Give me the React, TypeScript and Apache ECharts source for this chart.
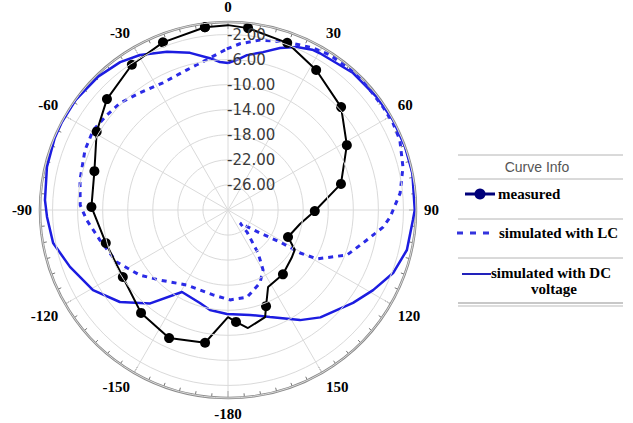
import React, { useEffect, useRef } from "react";
import * as echarts from "echarts";

// Angle tick labels (degrees) and radial ring labels (dB)
const angleTicks = [-180, -150, -120, -90, -60, -30, 0, 30, 60, 90, 120, 150];
const radialTicks = [-26, -22, -18, -14, -10, -6, -2];

// measured (black, with markers)
const measuredAngles = [-7.2, -21.2, -33.5, -47.5, -59.2, -73.8, -88.7, -105.1, -122.5, -139.8, -155.3, -170.2, 180, 175.9, 170.4, 160.9, 158.4, 152.5, 139.5, 126.9, 120.8, 114.2, 101, 90.7, 77.0, 61.4, 47.7, 32.2, 19.5, 6.3, 0, -7.2];
const measuredDb = [-0.6, -1.3, -2.2, -3.8, -5.6, -7.8, -8.2, -9.8, -10.1, -8.5, -7.5, -8.5, -12.9, -12.1, -10.9, -11.9, -13.5, -16.15, -16.5, -17.3, -17.6, -19.5, -18.3, -16.15, -11.5, -8.4, -5.6, -3.6, -1.7, -0.8, -0.5, -0.6];
const measuredMarker = [1, 1, 1, 1, 1, 1, 1, 1, 1, 1, 1, 1, 0, 1, 0, 0, 1, 0, 1, 0, 0, 1, 0, 1, 1, 1, 1, 1, 1, 1, 0, 1];

// simulated with LC (blue dashed)
const lcAngles = [-0.4, 4.1, 10.7, 19.4, 27.7, 33.3, 44.8, 56.4, 62.2, 67.9, 76.2, 84.4, 92.5, 96.3, 103.7, 110.7, 118.8, 120.8, 121.6, 125.7, 137.3, 139.2, 145.1, 149.7, 156.3, 167.7, 178.7, -170.0, -151.3, -135.8, -126.4, -115.1, -103.2, -94.1, -88.1, -78.5, -67.2, -59.3, -51.9, -45.3, -36.9, -27.1, -16.3, -12.1, -0.4];
const lcDb = [-4.3, -3.4, -2.4, -1.6, -0.8, -0.4, -0.1, -0.3, -0.25, -0.4, -1.25, -2.4, -4.1, -5.1, -7.8, -9.7, -13.8, -16.6, -20.25, -23.7, -27.15, -25.35, -21.6, -18.9, -17.3, -15.75, -15.65, -16.25, -16.35, -14.4, -12.5, -10.4, -9.0, -7.4, -6.4, -5.9, -5.25, -5.0, -5.45, -5.75, -6.6, -7.2, -6.7, -6.3, -4.3];

// simulated with DC voltage (blue solid)
const dcAngles = [0, 3.4, 7.0, 12.5, 17.8, 22.9, 27.7, 30.4, 42.4, 52.8, 61.4, 70.6, 78.7, 90, 93.1, 102.6, 110.9, 118.9, 126.6, 139.3, 146.8, 158.6, 168.2, -179.4, -169.8, -163.2, -150.7, -140.2, -130.4, -120.7, -109.8, -100.7, -92.2, -86.9, -76.6, -67.4, -62.4, -54.1, -44.1, -36.1, -29.6, -21.1, -13.6, -6.8, -3.1, 0];
const dcDb = [-6.55, -6.0, -5.1, -4.2, -2.85, -1.75, -1.1, -1.0, -0.4, -0.2, 0, 0, 0, -0.2, -0.45, -0.75, -1.8, -3.55, -5.15, -7.4, -9.0, -11.65, -12.9, -13.4, -13.8, -14.5, -15.0, -10.6, -7.35, -4.95, -3.2, -1.6, -1.1, -0.75, -0.3, -0.05, 0, 0, -0.3, -0.8, -1.55, -2.95, -4.2, -5.6, -6.35, -6.55];

const legendItems = ["measured", "simulated with LC", "simulated with DC", "voltage"];

const toAxis = (a: number) => (a < 0 ? a + 360 : a);

export default function App() {
  const ref = useRef<HTMLDivElement>(null);
  useEffect(() => {
    if (!ref.current) return;
    const chart = echarts.init(ref.current, undefined, { renderer: "svg" });
    const cx = 228, cy = 210, R = 188;
    const serifBold = { fontFamily: "Liberation Serif", fontWeight: "bold" as const, fontSize: 15, fill: "#000" };
    const sep = (y: number, w = 1, c = "#b4b4b4") => ({
      type: "line", shape: { x1: 458, y1: y, x2: 623, y2: y }, style: { stroke: c, lineWidth: w }, silent: true,
    });
    chart.setOption({
      animation: false,
      backgroundColor: "#fff",
      polar: { center: [cx, cy], radius: R },
      angleAxis: {
        type: "value",
        min: 0,
        max: 360,
        interval: 30,
        startAngle: 90,
        clockwise: true,
        axisLine: { show: true, lineStyle: { color: "#8a8a8a", width: 2.5 } },
        axisTick: { show: true, inside: true, length: 7, lineStyle: { color: "#777", width: 1 } },
        minorTick: { show: true, splitNumber: 6, length: 4, lineStyle: { color: "#777", width: 1 } },
        splitLine: { show: true, lineStyle: { color: "#dadada", width: 1 } },
        axisLabel: {
          margin: 8,
          color: "#000",
          fontFamily: "Liberation Serif",
          fontWeight: "bold",
          fontSize: 15,
          formatter: (v: number) => {
            if (v === 360) return "";
            const a = v >= 180 ? v - 360 : v;
            return angleTicks.indexOf(a) >= 0 ? String(a) : "";
          },
        },
      },
      radiusAxis: {
        type: "value",
        min: -30,
        max: 0,
        interval: 4,
        axisLine: { show: false },
        axisTick: { show: false },
        splitLine: { show: true, lineStyle: { color: "#dadada", width: 1 } },
        axisLabel: {
          color: "#3a3a3a",
          fontFamily: "DejaVu Sans",
          fontSize: 15,
          margin: 1,
          align: "left",
          formatter: (v: number) => (radialTicks.indexOf(v) >= 0 ? v.toFixed(2) : ""),
        },
        z: 10,
      },
      series: [
        {
          name: "simulated with DC voltage",
          type: "line",
          coordinateSystem: "polar",
          symbol: "none",
          lineStyle: { color: "#1c1ce0", width: 2.5 },
          data: dcAngles.map((a, i) => [dcDb[i], toAxis(a)]),
          z: 3,
        },
        {
          name: "simulated with LC",
          type: "line",
          coordinateSystem: "polar",
          symbol: "none",
          lineStyle: { color: "#2b2be6", width: 3, type: [5, 5] },
          data: lcAngles.map((a, i) => [lcDb[i], toAxis(a)]),
          z: 3,
        },
        {
          name: "measured",
          type: "line",
          coordinateSystem: "polar",
          symbol: "circle",
          symbolSize: 10,
          showSymbol: true,
          itemStyle: { color: "#000" },
          lineStyle: { color: "#000", width: 2 },
          data: measuredAngles.map((a, i) => ({
            value: [measuredDb[i], toAxis(a)],
            symbol: measuredMarker[i] ? "circle" : "none",
          })),
          z: 4,
        },
      ],
      graphic: [
        sep(155),
        { type: "text", x: 537, y: 167, style: { text: "Curve Info", fontFamily: "Liberation Sans", fontSize: 14, fill: "#555", align: "center", verticalAlign: "middle" } },
        sep(179),
        { type: "line", shape: { x1: 465, y1: 194, x2: 495, y2: 194 }, style: { stroke: "#00007a", lineWidth: 3 } },
        { type: "circle", shape: { cx: 480, cy: 194, r: 5.5 }, style: { fill: "#00007a" } },
        { type: "text", x: 498, y: 194, style: { ...serifBold, text: legendItems[0], verticalAlign: "middle" } },
        sep(219),
        { type: "line", shape: { x1: 457, y1: 233, x2: 496, y2: 233 }, style: { stroke: "#3333dd", lineWidth: 3, lineDash: [6, 7] } },
        { type: "text", x: 499, y: 233, style: { ...serifBold, text: legendItems[1], verticalAlign: "middle" } },
        sep(258),
        { type: "line", shape: { x1: 462, y1: 274, x2: 491, y2: 274 }, style: { stroke: "#2222bb", lineWidth: 2 } },
        { type: "text", x: 491, y: 273, style: { ...serifBold, text: legendItems[2], verticalAlign: "middle" } },
        { type: "text", x: 554, y: 289, style: { ...serifBold, text: legendItems[3], align: "center", verticalAlign: "middle" } },
        sep(303, 2, "#c8c8c8"),
        sep(306, 1.5, "#d2d2d2"),
      ],
    });
    return () => chart.dispose();
  }, []);
  return <div ref={ref} style={{ position: "fixed", left: 0, top: 0, width: 633, height: 423, background: "#fff" }} />;
}
